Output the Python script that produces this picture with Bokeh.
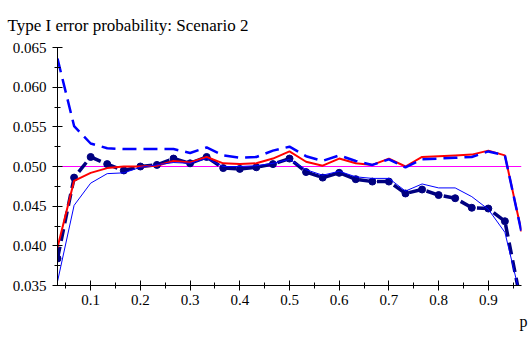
from bokeh.plotting import figure
from bokeh.models import Range1d, FixedTicker, Span, Title
from bokeh.embed import file_html
from bokeh.resources import INLINE

# ---- data ----
p_vals = [0.0333, 0.0667, 0.1000, 0.1333, 0.1667, 0.2000, 0.2333, 0.2667, 0.3000, 0.3333,
          0.3667, 0.4000, 0.4333, 0.4667, 0.5000, 0.5333, 0.5667, 0.6000, 0.6333, 0.6667,
          0.7000, 0.7333, 0.7667, 0.8000, 0.8333, 0.8667, 0.9000, 0.9333, 0.9667]

red_solid = [0.0398, 0.0482, 0.0492, 0.0498, 0.0500, 0.0500, 0.0501, 0.0507, 0.0505, 0.0512,
             0.0504, 0.0503, 0.0504, 0.0510, 0.0519, 0.0506, 0.0501, 0.0510, 0.0504, 0.0502,
             0.0510, 0.0500, 0.0512, 0.0513, 0.0514, 0.0515, 0.0520, 0.0514, 0.0418]

blue_dashed = [0.0636, 0.0551, 0.0529, 0.0523, 0.0522, 0.0522, 0.0522, 0.0522, 0.0517, 0.0524,
               0.0514, 0.0511, 0.0512, 0.0520, 0.0525, 0.0513, 0.0507, 0.0514, 0.0507, 0.0502,
               0.0509, 0.0499, 0.0509, 0.0510, 0.0511, 0.0512, 0.0519, 0.0514, 0.0417]

blue_thin = [0.0355, 0.0451, 0.0479, 0.0491, 0.0492, 0.0499, 0.0502, 0.0505, 0.0504, 0.0510,
             0.0500, 0.0500, 0.0501, 0.0504, 0.0509, 0.0496, 0.0489, 0.0494, 0.0487, 0.0485,
             0.0485, 0.0469, 0.0478, 0.0473, 0.0473, 0.0462, 0.0446, 0.0417, 0.0330]

navy_dotted = [0.0384, 0.0486, 0.0512, 0.0503, 0.0495, 0.0500, 0.0502, 0.0510, 0.0504, 0.0512,
               0.0498, 0.0497, 0.0499, 0.0503, 0.0510, 0.0493, 0.0486, 0.0492, 0.0484, 0.0481,
               0.0481, 0.0466, 0.0471, 0.0464, 0.0460, 0.0448, 0.0447, 0.0431, 0.0325]

nominal_level = 0.05

x_ticks = [0.1, 0.2, 0.3, 0.4, 0.5, 0.6, 0.7, 0.8, 0.9]
x_tick_labels = ["0.1", "0.2", "0.3", "0.4", "0.5", "0.6", "0.7", "0.8", "0.9"]
x_minor = [0.05, 0.15, 0.25, 0.35, 0.45, 0.55, 0.65, 0.75, 0.85, 0.95]

y_ticks = [0.035, 0.040, 0.045, 0.050, 0.055, 0.060, 0.065]
y_tick_labels = ["0.035", "0.040", "0.045", "0.050", "0.055", "0.060", "0.065"]
y_minor = [0.0375, 0.0425, 0.0475, 0.0525, 0.0575, 0.0625]

title_text = "Type I error probability: Scenario 2"
x_label = "p"

FONT = "Liberation Serif"

p = figure(width=532, height=344, output_backend="svg", toolbar_location=None,
           x_range=Range1d(p_vals[0], p_vals[-1]), y_range=Range1d(y_ticks[0], y_ticks[-1]),
           min_border_left=57, min_border_right=11, min_border_top=46, min_border_bottom=59)
p.outline_line_color = None
p.grid.visible = False
p.background_fill_color = "white"
p.border_fill_color = "white"

# nominal level
p.add_layout(Span(location=nominal_level, dimension="width", line_color="#FF00FF",
                  line_width=1, level="underlay"))

p.line(p_vals, navy_dotted, line_color="#000080", line_width=3.5, line_dash="12 6")
p.scatter(p_vals, navy_dotted, marker="circle", size=7, fill_color="#000080",
          line_color="#000080")
p.line(p_vals, red_solid, line_color="#FF0000", line_width=2)
p.line(p_vals, blue_dashed, line_color="#0000FF", line_width=2.5, line_dash="14 7")
p.line(p_vals, blue_thin, line_color="#0000FF", line_width=1)

for ax, ticks, minor, labels in ((p.xaxis[0], x_ticks, x_minor, x_tick_labels),
                                 (p.yaxis[0], y_ticks, y_minor, y_tick_labels)):
    ax.ticker = FixedTicker(ticks=ticks, minor_ticks=minor)
    ax.major_label_overrides = dict(zip(ticks, labels))
    ax.axis_line_color = "black"
    ax.major_tick_line_color = "black"
    ax.minor_tick_line_color = "black"
    ax.major_tick_in = 5
    ax.major_tick_out = 5
    ax.minor_tick_in = 3
    ax.minor_tick_out = 3
    ax.major_label_text_font = FONT
    ax.major_label_text_font_size = "15px"
    ax.major_label_text_color = "black"

p.yaxis.major_label_standoff = 6
p.xaxis.major_label_standoff = 4

p.title.text = title_text
p.title.align = "left"
p.title.offset = -50
p.title.standoff = 26
p.title.text_font = FONT
p.title.text_font_size = "17px"
p.title.text_font_style = "normal"
p.title.text_color = "black"

p.add_layout(Title(text=x_label, align="right", offset=-6, standoff=6, text_font=FONT,
                   text_font_size="16px", text_font_style="normal", text_color="black"),
             "below")

open("out.html", "w").write(file_html(p, INLINE))
